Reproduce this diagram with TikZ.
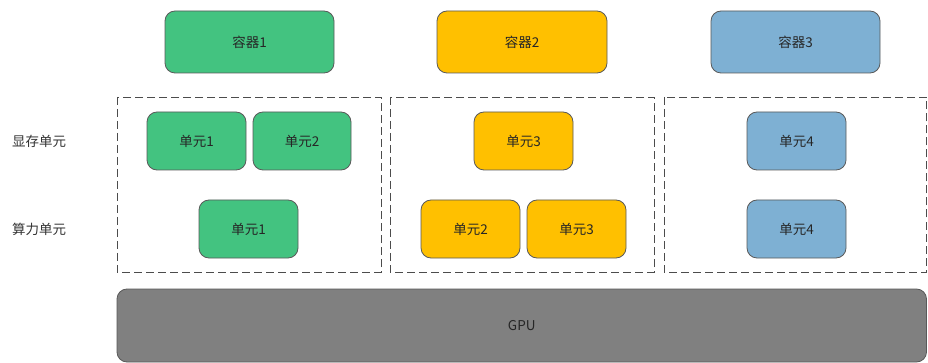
\documentclass[tikz,border=0pt]{standalone}
\usepackage{fontspec}
\setmainfont{Noto Sans CJK SC}
\begin{document}
\begin{tikzpicture}[x=1pt,y=-1pt,
  box/.style={draw=black!65,line width=0.8pt,rounded corners=10pt,font=\fontsize{13.5}{15}\selectfont,text=black!85},
  grn/.style={box,fill={rgb,255:red,67;green,195;blue,128}},
  ylw/.style={box,fill={rgb,255:red,255;green,192;blue,0}},
  blu/.style={box,fill={rgb,255:red,126;green,176;blue,211}},
  gry/.style={box,fill={rgb,255:red,128;green,128;blue,128}},
  grp/.style={draw=black!70,dash pattern=on 8pt off 4pt,line width=0.8pt},
  lbl/.style={font=\fontsize{13.5}{15}\selectfont,text=black!80,inner sep=0pt}]
\useasboundingbox (0,0) rectangle (928,363);
% containers
\draw[grn] (165,11) rectangle node (c1) {容器1} (334,73);
\draw[ylw] (437,11) rectangle node (c2) {容器2} (607,73);
\draw[blu] (711,11) rectangle node (c3) {容器3} (880,73);
% dashed groups
\draw[grp] (117,97) rectangle (381,272);
\draw[grp] (390,97) rectangle (654,272);
\draw[grp] (664,97) rectangle (926.5,272);
% memory units
\draw[grn] (147,112) rectangle node (m1) {单元1} (246,170);
\draw[grn] (253,112) rectangle node (m2) {单元2} (351,170);
\draw[ylw] (474,112) rectangle node (m3) {单元3} (573,170);
\draw[blu] (747,112) rectangle node (m4) {单元4} (846,170);
% compute units
\draw[grn] (199,200) rectangle node (p1) {单元1} (298,258);
\draw[ylw] (421,200) rectangle node (p2) {单元2} (520,258);
\draw[ylw] (527,200) rectangle node (p3) {单元3} (626,258);
\draw[blu] (747,200) rectangle node (p4) {单元4} (846,258);
% GPU
\draw[gry] (117,289) rectangle node (gpu) {GPU} (926.5,362);
% labels
\node[lbl,anchor=west] (l1) at (12,141) {显存单元};
\node[lbl,anchor=west] (l2) at (12,229) {算力单元};
\end{tikzpicture}
\end{document}
